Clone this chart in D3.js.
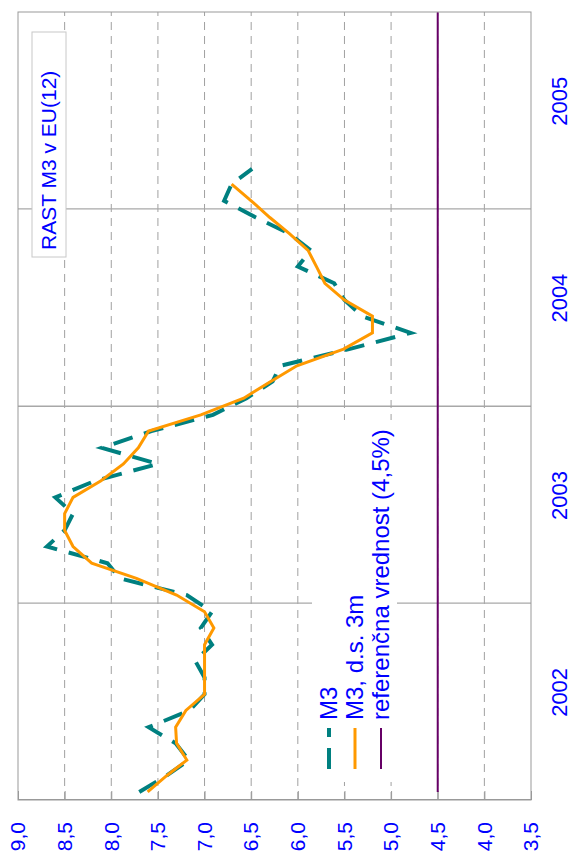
<!DOCTYPE html>
<html><head><meta charset="utf-8">
<script src="https://cdn.jsdelivr.net/npm/d3@7"></script>
<style>html,body{margin:0;padding:0;background:#fff;} svg{display:block;}</style>
</head><body>
<svg id="chart" width="574" height="854"></svg>
<script>
// ---- data ----
const months = [
  "2002-01","2002-02","2002-03","2002-04","2002-05","2002-06","2002-07","2002-08","2002-09","2002-10","2002-11","2002-12",
  "2003-01","2003-02","2003-03","2003-04","2003-05","2003-06","2003-07","2003-08","2003-09","2003-10","2003-11","2003-12",
  "2004-01","2004-02","2004-03","2004-04","2004-05","2004-06","2004-07","2004-08","2004-09","2004-10","2004-11","2004-12",
  "2005-01","2005-02","2005-03"
];
const m3 = [
  7.70, 7.40, 7.17, 7.31, 7.60, 7.16, 7.00, 7.00, 7.10, 6.92, 7.04, 6.92,
  7.19, 7.91, 8.04, 8.69, 8.50, 8.41, 8.60, 8.17, 7.50, 8.10, 7.57, 6.91,
  6.55, 6.27, 6.19, 5.45, 4.79, 5.31, 5.50, 5.61, 6.00, 5.86, 6.09, 6.45,
  6.79, 6.71, 6.49
];
const m3avg3 = [
  7.61, 7.40, 7.19, 7.30, 7.31, 7.20, 7.00, 7.00, 7.00, 7.00, 6.90, 7.00,
  7.30, 7.73, 8.21, 8.41, 8.50, 8.50, 8.41, 8.11, 7.87, 7.71, 7.60, 7.04,
  6.58, 6.29, 6.01, 5.51, 5.20, 5.20, 5.50, 5.71, 5.80, 5.89, 6.09, 6.30,
  6.50, 6.71
];
const refDates = ["2002-01-16", "2005-12-31"];
const refValues = [4.5, 4.5];
const valueTicks = [9.0, 8.5, 8.0, 7.5, 7.0, 6.5, 6.0, 5.5, 5.0, 4.5, 4.0, 3.5];
const yearLabels = ["2002", "2003", "2004", "2005"];
const seriesNames = ["M3", "M3, d.s. 3m", "referenčna vrednost (4,5%)"];
const titleText = "RAST M3 v EU(12)";

// ---- layout ----
const W = 788, H = 513;           // unrotated plot size (time x value)
const FONT = "'Liberation Sans', Arial, Helvetica, sans-serif";
const BLUE = "#0000ff";
const colors = {m3: "#008080", avg: "#ff9900", ref: "#660066"};

const parse = d3.timeParse("%Y-%m");
const parseDay = d3.timeParse("%Y-%m-%d");
const mid = s => { const d = parse(s); return new Date(d.getFullYear(), d.getMonth(), 16); };
const locale = d3.formatLocale({decimal: ",", thousands: ".", grouping: [3], currency: ["", ""]});
const fmt = locale.format(".1f");

const svg = d3.select("#chart");
svg.append("rect").attr("width", 574).attr("height", 854).attr("fill", "#fff");

const g = svg.append("g").attr("transform", "translate(18,800) rotate(-90)");

const x = d3.scaleTime().domain([new Date(2002, 0, 1), new Date(2006, 0, 1)]).range([0, W]);
const y = d3.scaleLinear().domain([3.5, 9.0]).range([H, 0]);

// dashed value grid
g.append("g").selectAll("line").data(valueTicks.filter(v => v > 3.5 && v < 9.0)).join("line")
  .attr("x1", 0).attr("x2", W).attr("y1", d => y(d)).attr("y2", d => y(d))
  .attr("stroke", "#a0a0a0").attr("stroke-width", 1).attr("stroke-dasharray", "8,6");

// year separators
const yearStarts = yearLabels.slice(1).map(s => new Date(+s, 0, 1));
g.append("g").selectAll("line").data(yearStarts).join("line")
  .attr("x1", d => x(d)).attr("x2", d => x(d)).attr("y1", 0).attr("y2", H)
  .attr("stroke", "#a8a8a8").attr("stroke-width", 1.3);

// frame
g.append("rect").attr("x", 0).attr("y", 0).attr("width", W).attr("height", H)
  .attr("fill", "none").attr("stroke", "#999").attr("stroke-width", 1);

// value axis (left in unrotated frame)
const ax = g.append("g").call(d3.axisLeft(y).tickValues(valueTicks).tickSizeInner(-9).tickSizeOuter(0).tickPadding(22).tickFormat(fmt));
ax.select(".domain").attr("stroke", "#999");
ax.selectAll(".tick line").attr("stroke", "#999");
ax.selectAll(".tick text").attr("fill", BLUE).style("font-family", FONT).style("font-size", "21px");

// year labels (bottom in unrotated frame)
g.append("g").selectAll("text").data(yearLabels).join("text")
  .attr("x", d => x(new Date(+d, 6, 1)) + 10).attr("y", H + 28).attr("dy", "0.35em")
  .attr("text-anchor", "middle").attr("fill", BLUE)
  .style("font-family", FONT).style("font-size", "22px").text(d => d);

// series
const line = d3.line().x(d => x(d.date)).y(d => y(d.value));
const m3Data = months.map((m, i) => ({date: mid(m), value: m3[i]}));
const avgData = m3avg3.map((v, i) => ({date: mid(months[i]), value: v}));
const refData = refDates.map((s, i) => ({date: parseDay(s), value: refValues[i]}));

g.append("path").datum(refData).attr("d", line).attr("fill", "none")
  .attr("stroke", colors.ref).attr("stroke-width", 2);
g.append("path").datum(m3Data).attr("d", line).attr("fill", "none")
  .attr("stroke", colors.m3).attr("stroke-width", 4).attr("stroke-dasharray", "20,12");
g.append("path").datum(avgData).attr("d", line).attr("fill", "none")
  .attr("stroke", colors.avg).attr("stroke-width", 3);

// legend
const lg = g.append("g");
lg.append("rect").attr("x", 18).attr("y", 294).attr("width", 362).attr("height", 85).attr("fill", "#fff");
const legendItems = [
  {name: seriesNames[0], color: colors.m3, w: 4, dash: "21,11"},
  {name: seriesNames[1], color: colors.avg, w: 3, dash: null},
  {name: seriesNames[2], color: colors.ref, w: 2, dash: null}
];
legendItems.forEach((it, i) => {
  const yy = 311 + i * 26;
  lg.append("line").attr("x1", 31).attr("x2", 72).attr("y1", yy).attr("y2", yy)
    .attr("stroke", it.color).attr("stroke-width", it.w).attr("stroke-dasharray", it.dash);
  lg.append("text").attr("x", 80).attr("y", yy).attr("dy", "0.35em").attr("fill", BLUE)
    .style("font-family", FONT).style("font-size", "24px").text(it.name);
});

// title box
const tg = g.append("g");
tg.append("rect").attr("x", 543).attr("y", 14).attr("width", 225).attr("height", 34)
  .attr("fill", "#fff").attr("stroke", "#c8c8c8").attr("stroke-width", 1);
tg.append("text").attr("x", 550).attr("y", 31).attr("dy", "0.35em").attr("text-anchor", "start")
  .attr("fill", BLUE).style("font-family", FONT).style("font-size", "21px").text(titleText);
</script>
</body></html>
